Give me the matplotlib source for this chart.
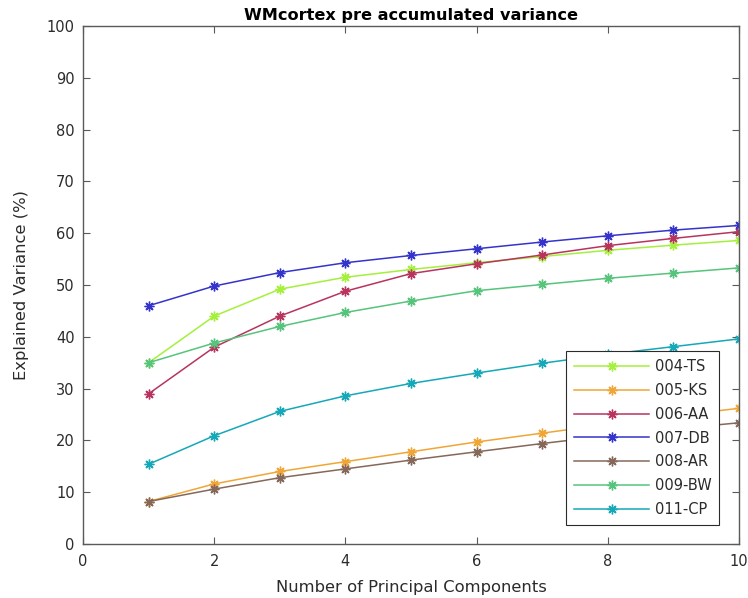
import numpy as np
import matplotlib
matplotlib.use("Agg")
import matplotlib.pyplot as plt

components = [1, 2, 3, 4, 5, 6, 7, 8, 9, 10]

labels = ["004-TS", "005-KS", "006-AA", "007-DB", "008-AR", "009-BW", "011-CP"]
colors = ["#a4f03c", "#f0a636", "#b8345e", "#3434cc", "#86685a", "#56c47c", "#14a8b8"]

ts_004 = [35.0, 44.0, 49.2, 51.5, 53.0, 54.3, 55.5, 56.7, 57.7, 58.6]
ks_005 = [8.2, 11.6, 14.0, 15.9, 17.8, 19.7, 21.4, 23.1, 24.7, 26.2]
aa_006 = [29.0, 38.0, 44.0, 48.8, 52.2, 54.1, 55.8, 57.6, 59.0, 60.3]
db_007 = [46.0, 49.8, 52.4, 54.3, 55.7, 57.0, 58.3, 59.5, 60.6, 61.5]
ar_008 = [8.2, 10.6, 12.8, 14.5, 16.2, 17.8, 19.4, 20.9, 22.2, 23.4]
bw_009 = [35.0, 38.8, 42.0, 44.7, 46.9, 48.9, 50.1, 51.3, 52.3, 53.3]
cp_011 = [15.4, 20.9, 25.6, 28.6, 31.0, 33.0, 34.9, 36.6, 38.1, 39.6]

series = [ts_004, ks_005, aa_006, db_007, ar_008, bw_009, cp_011]

TEXT = "#2b2b2b"
SPINE = "#5a5a5a"

fig = plt.figure(figsize=(7.48, 5.98), dpi=100, facecolor="white")
ax = fig.add_axes([0.111, 0.0903, 0.877, 0.8662])

for vals, lab, col in zip(series, labels, colors):
    ax.plot(components, vals, color=col, linewidth=1.1, marker=(8, 2, 0),
            markersize=7, markeredgewidth=1.0, label=lab)

ax.set_xlim(0, 10)
ax.set_ylim(0, 100)
ax.set_xticks(np.arange(0, 11, 2))
ax.set_yticks(np.arange(0, 101, 10))
ax.tick_params(direction="in", top=True, right=True, length=5, width=0.8,
               color=SPINE, labelcolor=TEXT, labelsize=10.5)
ax.tick_params(axis="x", pad=7)
ax.tick_params(axis="y", pad=6)
for s in ax.spines.values():
    s.set_color(SPINE)
    s.set_linewidth(1.0)

ax.set_xlabel("Number of Principal Components", fontsize=11.8, color=TEXT, labelpad=8)
ax.set_ylabel("Explained Variance (%)", fontsize=11.8, color=TEXT, labelpad=13)
ax.set_title("WMcortex pre accumulated variance", fontsize=11.6,
             fontweight="bold", pad=4)

leg = ax.legend(loc="lower right", bbox_to_anchor=(0.970, 0.037),
                fontsize=10.5, fancybox=False, framealpha=1,
                edgecolor=TEXT, handlelength=5.1, handletextpad=0.4,
                labelspacing=0.6, borderpad=0.55, borderaxespad=0)
leg.get_frame().set_linewidth(0.8)
for t in leg.get_texts():
    t.set_color(TEXT)

fig.savefig("out.png", dpi=100, facecolor="white")
